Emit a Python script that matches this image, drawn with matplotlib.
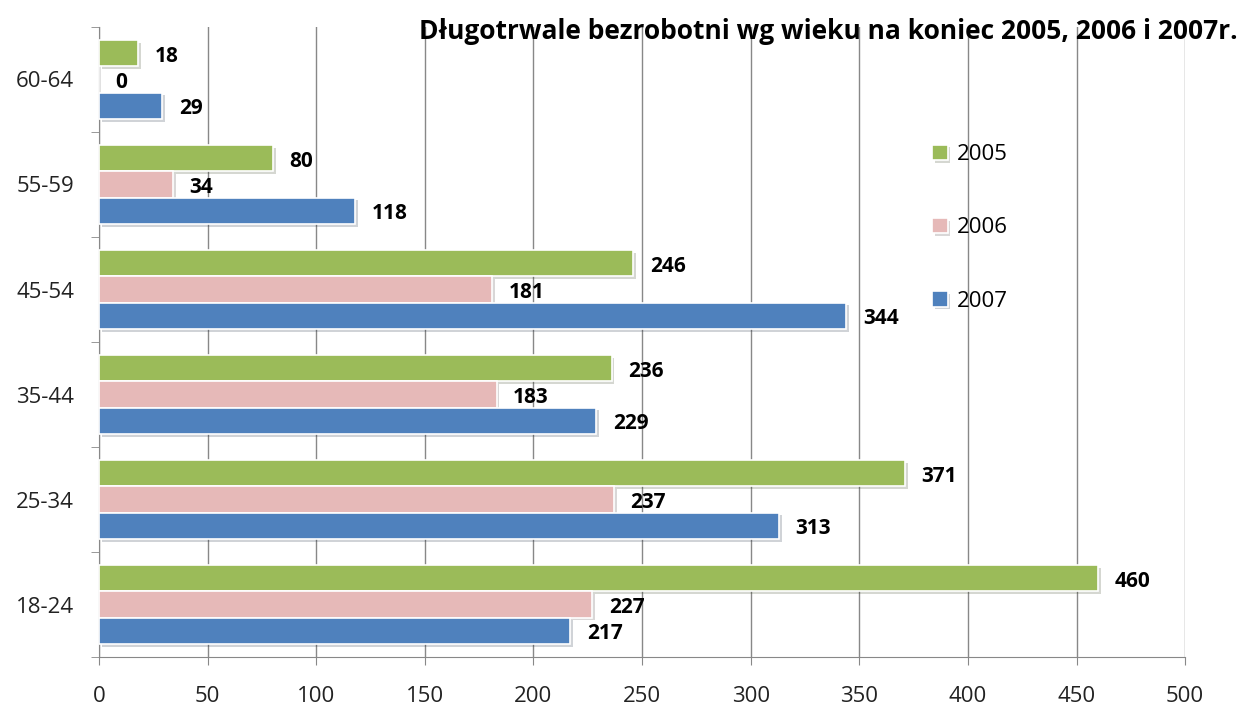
import numpy as np
import matplotlib.pyplot as plt
import matplotlib.patheffects as pe

plt.rcParams['font.family'] = ['Open Sans', 'DejaVu Sans']

# data
categories = ['18-24', '25-34', '35-44', '45-54', '55-59', '60-64']
years = ['2005', '2006', '2007']
v2005 = [460, 371, 236, 246, 80, 18]
v2006 = [227, 237, 183, 181, 34, 0]
v2007 = [217, 313, 229, 344, 118, 29]
colors = ['#9BBB59', '#E6B9B8', '#4F81BD']
title = 'Długotrwale bezrobotni wg wieku na koniec 2005, 2006 i 2007r.'

fig = plt.figure(figsize=(12.41, 7.10), dpi=100)
ax = fig.add_axes([0.0798, 0.0746, 0.8752, 0.8874])

y = np.arange(len(categories))
h = 0.25
shadow = [pe.SimplePatchShadow(offset=(2, -2), alpha=0.2), pe.Normal()]
for i, (vals, yr) in enumerate(zip([v2005, v2006, v2007], years)):
  bars = ax.barh(y + (1 - i) * h, vals, height=h, color=colors[i],
                 edgecolor='white', linewidth=1.2, label=yr, zorder=3)
  for b in bars:
    b.set_path_effects(shadow)
  # value labels to the right of each bar
  for b, v in zip(bars, vals):
    ax.annotate(str(v), (v, b.get_y() + b.get_height() / 2),
                xytext=(12, -2), textcoords='offset points',
                ha='left', va='center', fontsize=15, fontweight='bold',
                color='black', zorder=4)

ax.set_xlim(0, 500)
ax.set_ylim(-0.5, len(categories) - 0.5)
ax.set_xticks(np.arange(0, 501, 50))
ax.set_yticks(y)
ax.set_yticklabels(categories)
ax.set_yticks(np.arange(-0.5, len(categories), 1), minor=True)
ax.tick_params(axis='y', which='major', length=0, pad=18, labelsize=16,
               labelcolor='#222222')
ax.tick_params(axis='y', which='minor', length=6, color='#888888')
ax.tick_params(axis='x', length=6, color='#888888', labelsize=16, pad=15,
               labelcolor='#222222')
ax.grid(axis='x', color='#888888', linewidth=1, zorder=0)
for s in ['top', 'right']:
  ax.spines[s].set_visible(False)
for s in ['left', 'bottom']:
  ax.spines[s].set_color('#888888')

fig.text(0.997, 0.955, title, ha='right', va='center', fontsize=19,
         fontweight='bold')

ax.legend(loc='upper left', bbox_to_anchor=(0.735, 0.825),
          bbox_transform=fig.transFigure, frameon=False,
          fontsize=16, handlelength=0.7, handleheight=0.7, handletextpad=0.4,
          labelspacing=2.35)

fig.savefig('out.png', dpi=100)
